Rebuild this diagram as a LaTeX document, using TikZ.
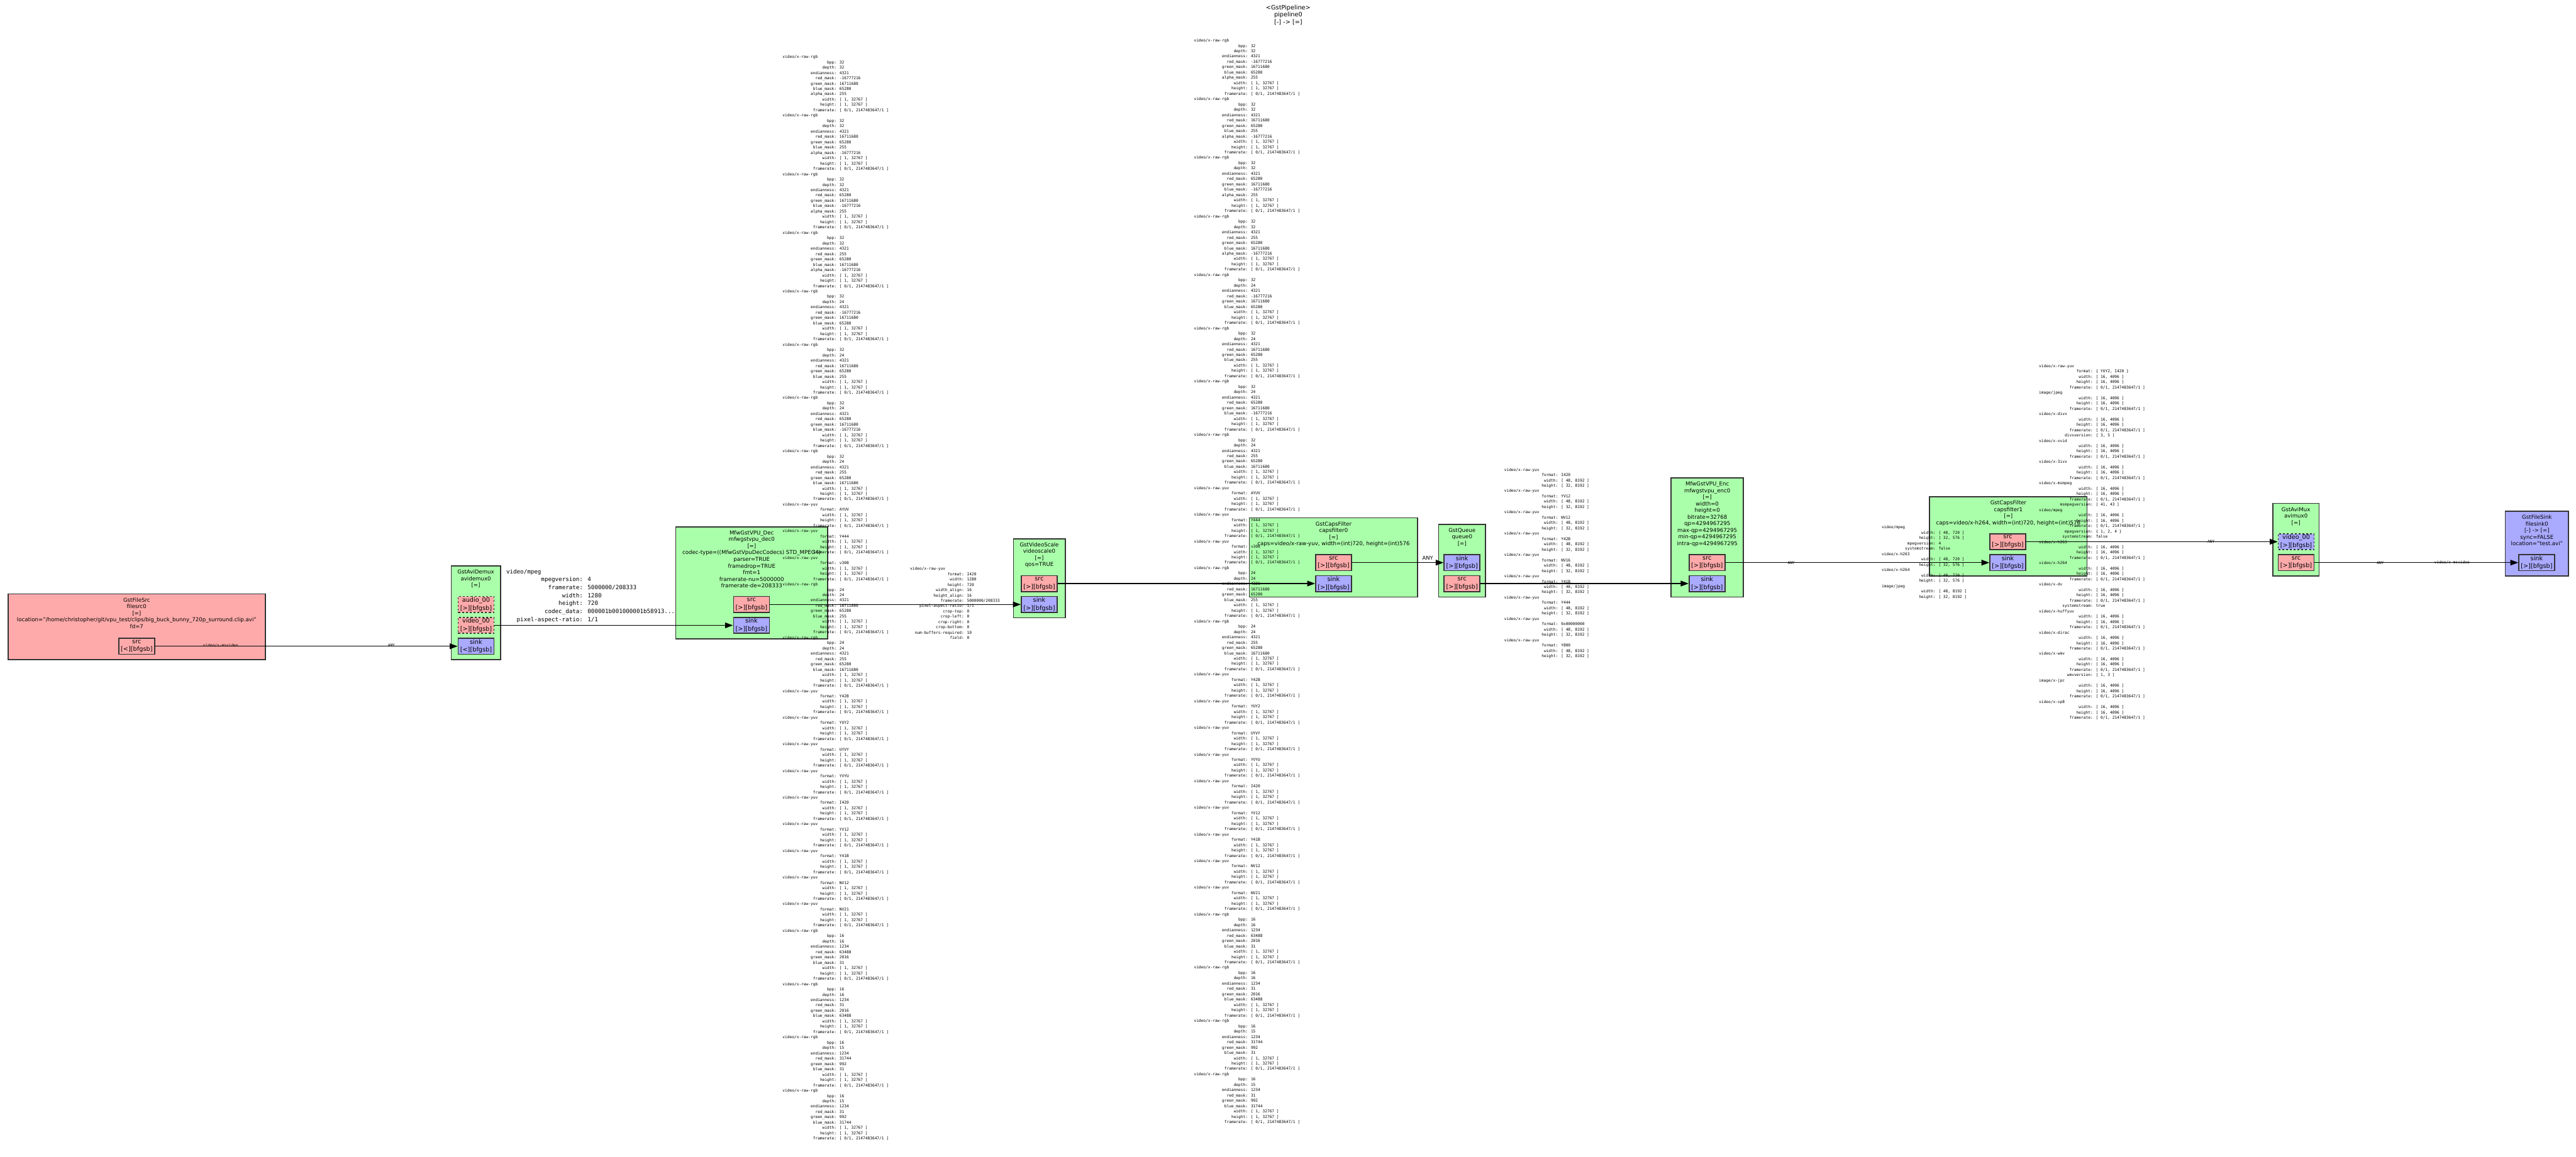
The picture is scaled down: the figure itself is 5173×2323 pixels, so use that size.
\documentclass[tikz,border=0pt]{standalone}
\usepackage{fontspec}
\setmainfont{DejaVu Sans}
\newfontfamily\monof{DejaVu Sans Mono}
\usetikzlibrary{arrows.meta}
\definecolor{gfill}{HTML}{AAFFAA}
\definecolor{pfill}{HTML}{FFAAAA}
\definecolor{bfill}{HTML}{AAAAFF}
\definecolor{bord}{HTML}{333333}
% caps helpers (one \hbox per line)
\newcommand\Ln[1]{\hbox{#1}}
\newcommand\kv[2]{\hbox{\makebox[13.244em][r]{#1}: #2}}
\newcommand\kb[2]{\hbox{\makebox[12.642em][r]{#1}: #2}}
\newcommand\capsbox[2]{\vtop{\baselineskip=#1\lineskip=0pt\lineskiplimit=-\maxdimen #2}}
\newcommand\whf{\kv{width}{[ 1, 32767 ]}\kv{height}{[ 1, 32767 ]}\kv{framerate}{[ 0/1, 2147483647/1 ]}}
\newcommand\rgbA[4]{\Ln{video/x-raw-rgb}\kv{bpp}{32}\kv{depth}{32}\kv{endianness}{4321}\kv{red\_mask}{#1}\kv{green\_mask}{#2}\kv{blue\_mask}{#3}\kv{alpha\_mask}{#4}\whf}
\newcommand\rgbX[3]{\Ln{video/x-raw-rgb}\kv{bpp}{32}\kv{depth}{24}\kv{endianness}{4321}\kv{red\_mask}{#1}\kv{green\_mask}{#2}\kv{blue\_mask}{#3}\whf}
\newcommand\rgbT[6]{\Ln{video/x-raw-rgb}\kv{bpp}{#1}\kv{depth}{#2}\kv{endianness}{#3}\kv{red\_mask}{#4}\kv{green\_mask}{#5}\kv{blue\_mask}{#6}\whf}
\newcommand\yuvB[1]{\Ln{video/x-raw-yuv}\kv{format}{#1}\whf}
\newcommand\vslist{%
\rgbA{-16777216}{16711680}{65280}{255}%
\rgbA{16711680}{65280}{255}{-16777216}%
\rgbA{65280}{16711680}{-16777216}{255}%
\rgbA{255}{65280}{16711680}{-16777216}%
\rgbX{-16777216}{16711680}{65280}%
\rgbX{16711680}{65280}{255}%
\rgbX{65280}{16711680}{-16777216}%
\rgbX{255}{65280}{16711680}%
\yuvB{AYUV}\yuvB{Y444}\yuvB{v308}%
\rgbT{24}{24}{4321}{16711680}{65280}{255}%
\rgbT{24}{24}{4321}{255}{65280}{16711680}%
\yuvB{Y42B}\yuvB{YUY2}\yuvB{UYVY}\yuvB{YVYU}\yuvB{I420}\yuvB{YV12}\yuvB{Y41B}\yuvB{NV12}\yuvB{NV21}%
\rgbT{16}{16}{1234}{63488}{2016}{31}%
\rgbT{16}{16}{1234}{31}{2016}{63488}%
\rgbT{16}{15}{1234}{31744}{992}{31}%
\rgbT{16}{15}{1234}{31}{992}{31744}}
\newcommand\encY[1]{\Ln{video/x-raw-yuv}\kv{format}{#1}\kv{width}{[ 48, 8192 ]}\kv{height}{[ 32, 8192 ]}}
\newcommand\mwhf{\kv{width}{[ 16, 4096 ]}\kv{height}{[ 16, 4096 ]}\kv{framerate}{[ 0/1, 2147483647/1 ]}}
\newcommand\ebox[6]{\node[ebox, fill=#2, minimum width={(#5-#3)*0.1mm}, minimum height={(#6-#4)*0.1mm}] (#1) at (#3,#4) {};}
\tikzset{
  x=0.1mm, y=-0.1mm,
  ebox/.style={draw=bord, line width=0.6pt, rectangle, inner sep=0pt, outer sep=0pt, anchor=north west},
  etext/.style={anchor=north, inner sep=0pt, align=center, font=\fontsize{3.1}{3.78}\selectfont},
  padbox/.style={draw=bord, line width=0.6pt, rectangle, inner sep=0pt, minimum width=72*0.1mm, minimum height=32*0.1mm, align=center, font=\fontsize{3.5}{4.55}\selectfont},
  dpad/.style={dash pattern=on 1.1pt off 1.1pt},
  capsT/.style={anchor=base west, inner sep=0pt, font=\monof\fontsize{2.22}{3.045}\selectfont},
  capsB/.style={anchor=base west, inner sep=0pt, font=\monof\fontsize{3.31}{4.55}\selectfont},
  tinyl/.style={inner sep=0pt, font=\monof\fontsize{2.22}{3.045}\selectfont},
  edge/.style={line width=0.5pt, -{Triangle[length=4.5pt,width=3.2pt]}},
  title/.style={inner sep=0pt, anchor=north, align=center, font=\fontsize{3.5}{4.13}\selectfont}
}
\begin{document}
\begin{tikzpicture}
\useasboundingbox[fill=white] (0,0) rectangle (5173,2323);
\node[title] (ttl) at (2587,9) {<GstPipeline>\\pipeline0\\{}[-] -> [=]};
% element boxes
\ebox{fsrc}{pfill}{16}{1193}{533}{1325}
\ebox{demux}{gfill}{906}{1137}{1005}{1325}
\ebox{dec}{gfill}{1357}{1058}{1662}{1283}
\ebox{vscale}{gfill}{2035}{1082}{2139}{1241}
\ebox{cf0}{gfill}{2509}{1040}{2847}{1199}
\ebox{queue}{gfill}{2889}{1053}{2983}{1199}
\ebox{enc}{gfill}{3356}{960}{3501}{1199}
\ebox{cf1}{gfill}{3875}{998}{4191}{1157}
\ebox{mux}{gfill}{4564}{1011}{4657}{1157}
\ebox{fsink}{bfill}{5031}{1027}{5158}{1157}
% element texts
\node[etext] (fsrc-t) at (274.5,1200) {GstFileSrc\\filesrc0\\{}[=]\\location="/home/christopher/git/vpu\_test/clips/big\_buck\_bunny\_720p\_surround.clip.avi"\\fd=7};
\node[etext] (demux-t) at (955.5,1144) {GstAviDemux\\avidemux0\\{}[=]};
\node[etext] (dec-t) at (1509.5,1065) {MfwGstVPU\_Dec\\mfwgstvpu\_dec0\\{}[=]\\codec-type=((MfwGstVpuDecCodecs) STD\_MPEG4)\\parser=TRUE\\framedrop=TRUE\\fmt=1\\framerate-nu=5000000\\framerate-de=208333};
\node[etext] (vscale-t) at (2087,1089) {GstVideoScale\\videoscale0\\{}[=]\\qos=TRUE};
\node[etext] (cf0-t) at (2678,1047) {GstCapsFilter\\capsfilter0\\{}[=]\\caps=video/x-raw-yuv, width=(int)720, height=(int)576};
\node[etext] (queue-t) at (2936,1060) {GstQueue\\queue0\\{}[=]};
\node[etext] (enc-t) at (3428.5,967) {MfwGstVPU\_Enc\\mfwgstvpu\_enc0\\{}[=]\\width=0\\height=0\\bitrate=32768\\qp=4294967295\\max-qp=4294967295\\min-qp=4294967295\\intra-qp=4294967295};
\node[etext] (cf1-t) at (4033,1005) {GstCapsFilter\\capsfilter1\\{}[=]\\caps=video/x-h264, width=(int)720, height=(int)576};
\node[etext] (mux-t) at (4610.5,1018) {GstAviMux\\avimux0\\{}[=]};
\node[etext] (fsink-t) at (5094.5,1034) {GstFileSink\\filesink0\\{}[-] -> [=]\\sync=FALSE\\location="test.avi"};
% pads
\node[padbox, fill=pfill] (fsrc-src) at (274.5,1298) {src\\{}[<][bfgsb]};
\node[padbox, fill=pfill, dpad] (demux-a) at (956,1214) {audio\_00\\{}[>][bfgsb]};
\node[padbox, fill=pfill, dpad] (demux-v) at (956,1256) {video\_00\\{}[>][bfgsb]};
\node[padbox, fill=bfill] (demux-sink) at (956,1298) {sink\\{}[<][bfgsb]};
\node[padbox, fill=pfill] (dec-src) at (1509,1214) {src\\{}[>][bfgsb]};
\node[padbox, fill=bfill] (dec-sink) at (1509,1256) {sink\\{}[>][bfgsb]};
\node[padbox, fill=pfill] (vscale-src) at (2087,1172) {src\\{}[>][bfgsb]};
\node[padbox, fill=bfill] (vscale-sink) at (2087,1214) {sink\\{}[>][bfgsb]};
\node[padbox, fill=pfill] (cf0-src) at (2678,1130) {src\\{}[>][bfgsb]};
\node[padbox, fill=bfill] (cf0-sink) at (2678,1172) {sink\\{}[>][bfgsb]};
\node[padbox, fill=bfill] (queue-sink) at (2936,1130) {sink\\{}[>][bfgsb]};
\node[padbox, fill=pfill] (queue-src) at (2936,1172) {src\\{}[>][bfgsb]};
\node[padbox, fill=pfill] (enc-src) at (3428,1130) {src\\{}[>][bfgsb]};
\node[padbox, fill=bfill] (enc-sink) at (3428,1172) {sink\\{}[>][bfgsb]};
\node[padbox, fill=pfill] (cf1-src) at (4032,1088) {src\\{}[>][bfgsb]};
\node[padbox, fill=bfill] (cf1-sink) at (4032,1130) {sink\\{}[>][bfgsb]};
\node[padbox, fill=bfill, dpad] (mux-v) at (4611,1088) {video\_00\\{}[>][bfgsb]};
\node[padbox, fill=pfill] (mux-src) at (4611,1130) {src\\{}[>][bfgsb]};
\node[padbox, fill=bfill] (fsink-sink) at (5094,1130) {sink\\{}[>][bfgsb]};
% edges
\draw[edge] (fsrc-src.east) -- (demux-sink.west);
\draw[edge] (demux-v.east) -- (dec-sink.west);
\draw[edge] (dec-src.east) -- (vscale-sink.west);
\draw[edge] (vscale-src.east) -- (cf0-sink.west);
\draw[edge] (cf0-src.east) -- (queue-sink.west);
\draw[edge] (queue-src.east) -- (enc-sink.west);
\draw[edge] (enc-src.east) -- (cf1-sink.west);
\draw[edge] (cf1-src.east) -- (mux-v.west);
\draw[edge] (mux-src.east) -- (fsink-sink.west);
% edge labels
\node[tinyl] (l-fs0) at (443,1296) {video/x-msvideo};
\node[tinyl] (l-fs) at (786,1296) {ANY};
\node[capsB] (l-demux) at (1016,1152) {\capsbox{4.55pt}{\Ln{video/mpeg}\kb{mpegversion}{4}\kb{framerate}{5000000/208333}\kb{width}{1280}\kb{height}{720}\kb{codec\_data}{000001b001000001b58913...}\kb{pixel-aspect-ratio}{1/1}}};
\node[capsT] (l-col1) at (1571,117) {\capsbox{3.045pt}{\vslist}};
\node[capsT] (l-i420) at (1827,1145) {\capsbox{3.045pt}{\Ln{video/x-raw-yuv}\kv{format}{I420}\kv{width}{1280}\kv{height}{720}\kv{width\_align}{16}\kv{height\_align}{16}\kv{framerate}{5000000/208333}\kv{pixel-aspect-ratio}{1/1}\kv{crop-top}{0}\kv{crop-left}{0}\kv{crop-right}{0}\kv{crop-bottom}{0}\kv{num-buffers-required}{10}\kv{field}{0}}};
\node[capsT] (l-col2) at (2397,84) {\capsbox{3.045pt}{\vslist}};
\node[inner sep=0pt, font=\fontsize{3}{3.6}\selectfont] (l-cfq) at (2867,1121) {ANY};
\node[capsT] (l-encsink) at (3020,946) {\capsbox{3.045pt}{\encY{I420}\encY{YV12}\encY{NV12}\encY{Y42B}\encY{NV16}\encY{Y41B}\encY{Y444}\encY{0x00000000}\encY{Y800}}};
\node[tinyl] (l-enc) at (3597,1130) {ANY};
\node[capsT] (l-encsrc) at (3778,1062) {\capsbox{3.045pt}{\Ln{video/mpeg}\kv{width}{[ 48, 720 ]}\kv{height}{[ 32, 576 ]}\kv{mpegversion}{4}\kv{systemstream}{false}\Ln{video/x-h263}\kv{width}{[ 48, 720 ]}\kv{height}{[ 32, 576 ]}\Ln{video/x-h264}\kv{width}{[ 48, 720 ]}\kv{height}{[ 32, 576 ]}\Ln{image/jpeg}\kv{width}{[ 48, 8192 ]}\kv{height}{[ 32, 8192 ]}}};
\node[capsT] (l-col3) at (4094,738) {\capsbox{3.045pt}{\Ln{video/x-raw-yuv}\kv{format}{\{ YUY2, I420 \}}\mwhf\Ln{image/jpeg}\mwhf\Ln{video/x-divx}\mwhf\kv{divxversion}{[ 3, 5 ]}\Ln{video/x-xvid}\mwhf\Ln{video/x-3ivx}\mwhf\Ln{video/x-msmpeg}\mwhf\kv{msmpegversion}{[ 41, 43 ]}\Ln{video/mpeg}\mwhf\kv{mpegversion}{\{ 1, 2, 4 \}}\kv{systemstream}{false}\Ln{video/x-h263}\mwhf\Ln{video/x-h264}\mwhf\Ln{video/x-dv}\mwhf\kv{systemstream}{true}\Ln{video/x-huffyuv}\mwhf\Ln{video/x-dirac}\mwhf\Ln{video/x-wmv}\mwhf\kv{wmvversion}{[ 1, 3 ]}\Ln{image/x-jpc}\mwhf\Ln{video/x-vp8}\mwhf}};
\node[tinyl] (l-cfm) at (4440,1088) {ANY};
\node[tinyl] (l-m1) at (4780,1130) {ANY};
\node[tinyl] (l-m2) at (4924,1130) {video/x-msvideo};
\end{tikzpicture}
\end{document}
